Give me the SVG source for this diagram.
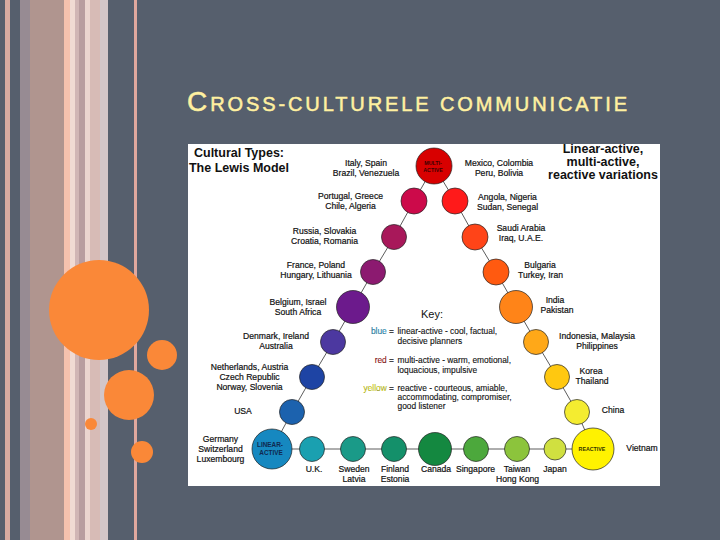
<svg xmlns="http://www.w3.org/2000/svg" width="720" height="540" viewBox="0 0 720 540">
<style>
text{font-family:"Liberation Sans",Arial,sans-serif;}
.lbl{font-size:8.6px;fill:#111;text-anchor:middle;stroke:#111;stroke-width:0.2;}
.key{font-size:8.4px;fill:#111;stroke:#111;stroke-width:0.12;}
.hd{font-size:12.5px;font-weight:bold;fill:#111;text-anchor:middle;}
.node circle{stroke:#222;stroke-width:0.7;}
.inner{font-weight:bold;text-anchor:middle;}
.conn{stroke:#333;stroke-width:0.8;fill:none;}
</style>
<rect width="720" height="540" fill="#565F6D"/>
<g id="stripes">
<rect x="5" y="0" width="5" height="540" fill="#D7ABA1"/>
<rect x="20" y="0" width="10" height="540" fill="#978B93"/>
<rect x="30" y="0" width="34" height="540" fill="#B0958F"/>
<rect x="64" y="0" width="6" height="540" fill="#F6C2AE"/>
<rect x="70" y="0" width="5" height="540" fill="#F0DAD3"/>
<rect x="75" y="0" width="4" height="540" fill="#D0B5B5"/>
<rect x="79" y="0" width="6" height="540" fill="#B89C9F"/>
<rect x="85" y="0" width="5" height="540" fill="#EBD4CF"/>
<rect x="90" y="0" width="10" height="540" fill="#D7BBB6"/>
<rect x="100" y="0" width="8" height="540" fill="#D3C6C8"/>
<rect x="134" y="0" width="3" height="540" fill="#E0A89E"/>
</g>
<g id="dots" fill="#FA8838">
<circle cx="99" cy="310" r="50"/>
<circle cx="162" cy="355" r="15"/>
<circle cx="129" cy="395" r="25"/>
<circle cx="91" cy="424" r="6"/>
<circle cx="142" cy="452" r="11"/>
</g>
<text x="187" y="111" fill="#FFF0A0" stroke="#FFF0A0" stroke-width="0.5" font-size="20" textLength="440" lengthAdjust="spacing"><tspan font-size="28">C</tspan>ROSS-CULTURELE COMMUNICATIE</text>
<rect x="188" y="144" width="472" height="342" fill="#FFFFFF"/>
<text class="hd" x="239" y="157">Cultural Types:</text>
<text class="hd" x="239" y="171.5">The Lewis Model</text>
<text class="hd" x="603" y="153">Linear-active,</text>
<text class="hd" x="603" y="166">multi-active,</text>
<text class="hd" x="603" y="178.5">reactive variations</text>
<g id="connectors">
<polyline class="conn" points="434,166 414,201 394,237 373,272 353,307 333,342 312,377 292,412 272,449 593,449 577,412 557,377 536,342 516,307 496,272 475,237 455,201 434,166"/>
</g>
<g id="n-multi" class="node"><circle cx="434" cy="166" r="18" fill="#D80000"/><text class="inner" x="433" y="165" font-size="5.3" fill="#3A0000">MULTI-</text><text class="inner" x="433" y="172" font-size="5.3" fill="#3A0000">ACTIVE</text></g>
<g id="n-portugal" class="node"><circle cx="414" cy="201" r="13" fill="#CC0A4A"/></g>
<g id="n-russia" class="node"><circle cx="394" cy="237" r="12.5" fill="#A8185A"/></g>
<g id="n-france" class="node"><circle cx="373" cy="272" r="12.5" fill="#8C1A70"/></g>
<g id="n-belgium" class="node"><circle cx="353" cy="307" r="16.5" fill="#6C1A8C"/></g>
<g id="n-denmark" class="node"><circle cx="333" cy="342" r="12.5" fill="#4C38A0"/></g>
<g id="n-netherlands" class="node"><circle cx="312" cy="377" r="12.5" fill="#1E44A4"/></g>
<g id="n-usa" class="node"><circle cx="292" cy="412" r="12.5" fill="#1C62AE"/></g>
<g id="n-linear" class="node"><circle cx="272" cy="449" r="20" fill="#1688C0"/><text class="inner" x="270" y="446.5" font-size="6.4" fill="#102850">LINEAR-</text><text class="inner" x="271" y="455" font-size="6.4" fill="#102850">ACTIVE</text></g>
<g id="n-uk" class="node"><circle cx="312" cy="449" r="12.5" fill="#1AA0B0"/></g>
<g id="n-sweden" class="node"><circle cx="353" cy="449" r="12.5" fill="#1A9A88"/></g>
<g id="n-finland" class="node"><circle cx="394" cy="449" r="12.5" fill="#14906A"/></g>
<g id="n-canada" class="node"><circle cx="435" cy="449" r="16.5" fill="#148840"/></g>
<g id="n-singapore" class="node"><circle cx="476" cy="449" r="12.5" fill="#4CA83C"/></g>
<g id="n-taiwan" class="node"><circle cx="517" cy="449" r="12.5" fill="#8CC43C"/></g>
<g id="n-japan" class="node"><circle cx="555" cy="449" r="11" fill="#D0E040"/></g>
<g id="n-reactive" class="node"><circle cx="593" cy="449" r="21" fill="#FFF200"/><text class="inner" x="592" y="451" font-size="5.3" fill="#333300">REACTIVE</text></g>
<g id="n-china" class="node"><circle cx="577" cy="412" r="12.5" fill="#F4EC30"/></g>
<g id="n-korea" class="node"><circle cx="557" cy="377" r="12.5" fill="#FFC810"/></g>
<g id="n-indonesia" class="node"><circle cx="536" cy="342" r="12.5" fill="#FFA818"/></g>
<g id="n-india" class="node"><circle cx="516" cy="307" r="16.5" fill="#FF8418"/></g>
<g id="n-bulgaria" class="node"><circle cx="496" cy="272" r="13" fill="#FF5A10"/></g>
<g id="n-saudi" class="node"><circle cx="475" cy="237" r="13" fill="#FF4418"/></g>
<g id="n-angola" class="node"><circle cx="455" cy="201" r="13" fill="#FF1A1A"/></g>
<g id="labels">
<text class="lbl" x="366" y="166">Italy, Spain</text>
<text class="lbl" x="366" y="176">Brazil, Venezuela</text>
<text class="lbl" x="350.5" y="199">Portugal, Greece</text>
<text class="lbl" x="350.5" y="209">Chile, Algeria</text>
<text class="lbl" x="324.5" y="234">Russia, Slovakia</text>
<text class="lbl" x="324.5" y="244">Croatia, Romania</text>
<text class="lbl" x="316" y="268">France, Poland</text>
<text class="lbl" x="316" y="278">Hungary, Lithuania</text>
<text class="lbl" x="298" y="305">Belgium, Israel</text>
<text class="lbl" x="298" y="315">South Africa</text>
<text class="lbl" x="276" y="339">Denmark, Ireland</text>
<text class="lbl" x="276" y="349">Australia</text>
<text class="lbl" x="249.5" y="370">Netherlands, Austria</text>
<text class="lbl" x="249.5" y="380">Czech Republic</text>
<text class="lbl" x="249.5" y="390">Norway, Slovenia</text>
<text class="lbl" x="243" y="414">USA</text>
<text class="lbl" x="220.5" y="442">Germany</text>
<text class="lbl" x="220.5" y="452">Switzerland</text>
<text class="lbl" x="220.5" y="462">Luxembourg</text>
<text class="lbl" x="314" y="471.5">U.K.</text>
<text class="lbl" x="354" y="471.5">Sweden</text>
<text class="lbl" x="354" y="481.5">Latvia</text>
<text class="lbl" x="395" y="471.5">Finland</text>
<text class="lbl" x="395" y="481.5">Estonia</text>
<text class="lbl" x="436" y="471.5">Canada</text>
<text class="lbl" x="475.5" y="471.5">Singapore</text>
<text class="lbl" x="517" y="471.5">Taiwan</text>
<text class="lbl" x="517.5" y="481.5">Hong Kong</text>
<text class="lbl" x="555" y="471.5">Japan</text>
<text class="lbl" x="642" y="451">Vietnam</text>
<text class="lbl" x="613" y="413">China</text>
<text class="lbl" x="591" y="374">Korea</text>
<text class="lbl" x="592" y="384">Thailand</text>
<text class="lbl" x="597" y="339">Indonesia, Malaysia</text>
<text class="lbl" x="597" y="349">Philippines</text>
<text class="lbl" x="555" y="303">India</text>
<text class="lbl" x="557" y="313">Pakistan</text>
<text class="lbl" x="540" y="267.5">Bulgaria</text>
<text class="lbl" x="540.5" y="277.5">Turkey, Iran</text>
<text class="lbl" x="521" y="230.5">Saudi Arabia</text>
<text class="lbl" x="521" y="240.5">Iraq, U.A.E.</text>
<text class="lbl" x="507.5" y="200">Angola, Nigeria</text>
<text class="lbl" x="507.5" y="210">Sudan, Senegal</text>
<text class="lbl" x="499" y="166">Mexico, Colombia</text>
<text class="lbl" x="499" y="176">Peru, Bolivia</text>
</g>
<g id="key">
<text x="421" y="318" font-size="11" fill="#111">Key:</text>
<text class="key" x="394" y="334.3" text-anchor="end"><tspan fill="#2F9FCF">blue</tspan> =</text>
<text class="key" x="397.5" y="334.3">linear-active - cool, factual,</text>
<text class="key" x="397.5" y="344">decisive planners</text>
<text class="key" x="394" y="363.3" text-anchor="end"><tspan fill="#B01818">red</tspan> =</text>
<text class="key" x="397.5" y="363.3">multi-active - warm, emotional,</text>
<text class="key" x="397.5" y="372.7">loquacious, impulsive</text>
<text class="key" x="394" y="390.7" text-anchor="end"><tspan fill="#EEEE22">yellow</tspan> =</text>
<text class="key" x="397.5" y="390.7">reactive - courteous, amiable,</text>
<text class="key" x="397.5" y="400">accommodating, compromiser,</text>
<text class="key" x="397.5" y="409.3">good listener</text>
</g>
</svg>
